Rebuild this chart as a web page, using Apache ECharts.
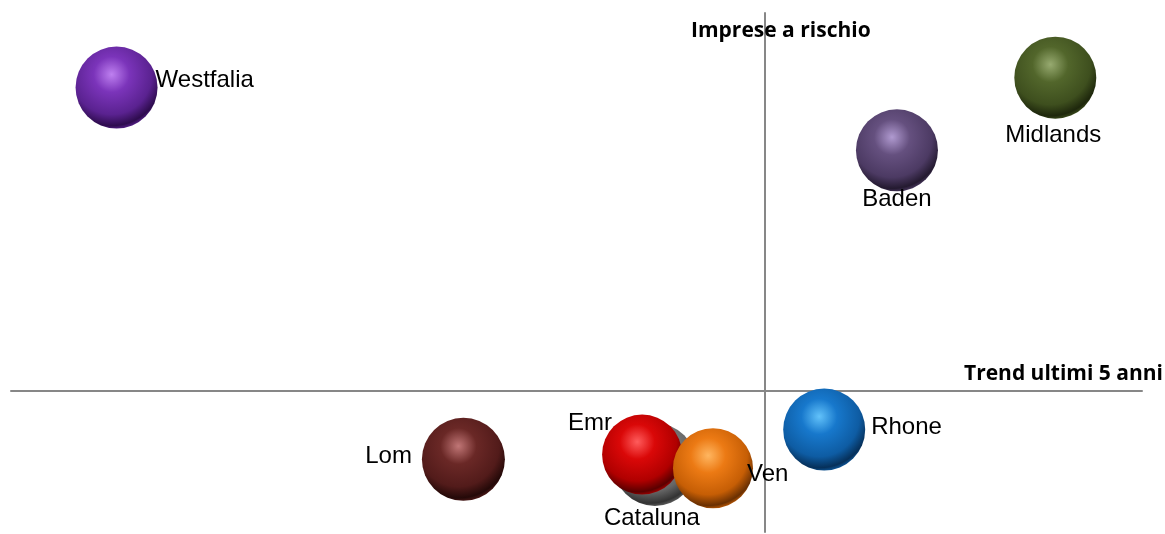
<!DOCTYPE html>
<html>
<head>
<meta charset="utf-8">
<script src="https://cdn.jsdelivr.net/npm/echarts@6/dist/echarts.min.js"></script>
<style>
html,body{margin:0;padding:0;background:#fff;}
#chart{width:1165px;height:534px;}
</style>
</head>
<body>
<div id="chart"></div>
<script>
// Data (arbitrary axis units, origin at axes crossing)
const regions = ['Westfalia','Midlands','Baden','Rhone','Lom','Cataluna','Emr','Ven'];
const trend   = [-17.2, 7.7, 3.5, 1.57, -8.0, -2.92, -3.26, -1.38];   // x: Trend ultimi 5 anni
const rischio = [6.42, 6.63, 5.09, -0.83, -1.46, -1.57, -1.36, -1.65]; // y: Imprese a rischio
const sizes   = [82, 82, 82, 82, 83, 83, 80, 80];
const xTitle = 'Trend ultimi 5 anni';
const yTitle = 'Imprese a rischio';

// Sphere colours: [highlight, base, mid-dark, dark]
const palette = {
  Westfalia: ['#BE80F0','#7B34BA','#5A2290','#2E0C4E'],
  Midlands:  ['#97AA70','#52662B','#3E4F1E','#1E270C'],
  Baden:     ['#B09AD0','#65507F','#4C3A63','#241A30'],
  Rhone:     ['#62C2FA','#1778CC','#0E5CA3','#06305A'],
  Lom:       ['#C07676','#6A2826','#521B1A','#240908'],
  Cataluna:  ['#C8C8C8','#858585','#666666','#333333'],
  Emr:       ['#FF5C5C','#DA0808','#B00000','#5A0000'],
  Ven:       ['#FFB660','#EC7A14','#C65E05','#6A3002']
};
const labelCfg = {
  Westfalia: {position:'right', distance:-2, offset:[0,-7]},
  Midlands:  {position:'bottom', distance:5, offset:[-2,0]},
  Baden:     {position:'bottom', distance:-4, offset:[0,0]},
  Rhone:     {position:'right', distance:6, offset:[0,-2]},
  Lom:       {position:'left', distance:10, offset:[0,-3]},
  Cataluna:  {position:'bottom', distance:0, offset:[-3,0]},
  Emr:       {position:'left', distance:-10, offset:[0,-31]},
  Ven:       {position:'right', distance:-6, offset:[0,6]}
};

function sphere(c){
  return {
    type:'radial', x:0.44, y:0.34, r:0.68,
    colorStops:[
      {offset:0, color:c[0]},
      {offset:0.32, color:c[1]},
      {offset:0.72, color:c[2]},
      {offset:0.92, color:c[3]},
      {offset:1, color:c[2]}
    ]
  };
}

const data = regions.map((name,i)=>{
  const lc = labelCfg[name];
  return {
    name: name,
    value: [trend[i], rischio[i]],
    symbolSize: sizes[i],
    itemStyle: {color: sphere(palette[name]), opacity:1},
    label: {show:true, formatter:name, position:lc.position, distance:lc.distance, offset:lc.offset}
  };
});

const chart = echarts.init(document.getElementById('chart'), null, {renderer:'canvas'});
chart.setOption({
  animation:false,
  grid:{left:11, right:23, top:13, bottom:2, containLabel:false},
  xAxis:{
    type:'value', min:-20, max:10,
    axisLine:{show:true, onZero:true, lineStyle:{color:'#878787', width:2}},
    axisTick:{show:false}, axisLabel:{show:false}, splitLine:{show:false}
  },
  yAxis:{
    type:'value', min:-3, max:8,
    axisLine:{show:true, onZero:true, lineStyle:{color:'#878787', width:2}},
    axisTick:{show:false}, axisLabel:{show:false}, splitLine:{show:false}
  },
  graphic:[
    {type:'text', x:691, y:31, z:10, style:{text:yTitle, font:'bold 21px "Open Sans"', fill:'#000', align:'left', verticalAlign:'middle'}},
    {type:'text', x:1163, y:374, z:10, style:{text:xTitle, font:'bold 21px "Open Sans"', fill:'#000', align:'right', verticalAlign:'middle'}}
  ],
  series:[{
    type:'scatter',
    symbol:'circle',
    data:data,
    label:{color:'#000', fontFamily:'Liberation Sans', fontSize:24, opacity:1},
    emphasis:{disabled:true}
  }]
});
</script>
</body>
</html>
